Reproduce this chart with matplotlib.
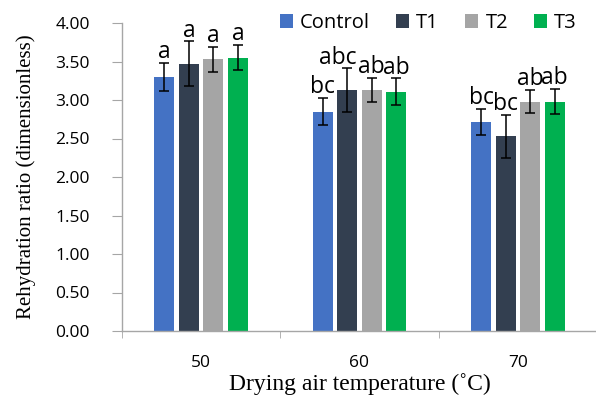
import matplotlib
matplotlib.use("Agg")
import matplotlib.pyplot as plt
import numpy as np

categories = ["50", "60", "70"]
series = ["Control", "T1", "T2", "T3"]
values = {
    "Control": [3.30, 2.85, 2.71],
    "T1": [3.47, 3.13, 2.53],
    "T2": [3.53, 3.13, 2.98],
    "T3": [3.55, 3.11, 2.98],
}
errors = {
    "Control": [0.18, 0.18, 0.17],
    "T1": [0.29, 0.28, 0.28],
    "T2": [0.16, 0.16, 0.15],
    "T3": [0.16, 0.17, 0.16],
}
letters = {
    "Control": ["a", "bc", "bc"],
    "T1": ["a", "abc", "bc"],
    "T2": ["a", "ab", "ab"],
    "T3": ["a", "ab", "ab"],
}
colors = ["#4472C4", "#333F50", "#A5A5A5", "#00B050"]
yticks = [0, 0.5, 1, 1.5, 2, 2.5, 3, 3.5, 4]

fig = plt.figure(figsize=(5.96, 3.97), dpi=100)
ax = fig.add_axes([122/596, 1-331/397, (597-122)/596, (331-23)/397])

x = np.arange(len(categories))
step = 0.155
width = 0.126
sans = ["Open Sans", "DejaVu Sans"]
label_dx = {("T1", 1): -7}
for i, s in enumerate(series):
    xs = x + (i - 1.5) * step
    ax.bar(xs, values[s], width, color=colors[i], label=s, zorder=2,
           edgecolor="none")
    ax.errorbar(xs, values[s], yerr=errors[s], fmt="none", ecolor="black",
                elinewidth=1.1, capsize=3.8, capthick=1.1, zorder=3)
    for j in range(len(categories)):
        top = values[s][j] + errors[s][j]
        ax.annotate(letters[s][j], (xs[j], top),
                    xytext=(label_dx.get((s, j), 0), 3.5),
                    textcoords="offset points", ha="center", va="baseline",
                    fontsize=16.5, family=sans, color="black", zorder=4)

ax.set_xlim(-0.5, 2.5)
ax.set_ylim(0, 4)
ax.set_yticks(yticks)
ax.set_yticklabels([f"{v:.2f}" for v in yticks], family=sans, fontsize=12.5)
ax.set_xticks(x)
ax.set_xticklabels(categories, family=sans, fontsize=12.5)
ax.tick_params(axis="x", length=0, pad=17)
ax.set_xticks([-0.5, 0.5, 1.5, 2.5], minor=True)
ax.tick_params(axis="x", which="minor", length=5, color="#A6A6A6", direction="out")
ax.tick_params(axis="y", length=7.2, color="#A6A6A6", direction="out", pad=16)
for sp in ["top", "right"]:
    ax.spines[sp].set_visible(False)
for sp in ["left", "bottom"]:
    ax.spines[sp].set_color("#A6A6A6")
    ax.spines[sp].set_linewidth(1.0)

ax.set_xlabel("Drying air temperature (˚C)", family="Liberation Serif",
              fontsize=17, labelpad=2)
ax.set_ylabel("Rehydration ratio (dimensionless)", family="Liberation Serif",
              fontsize=15, labelpad=14)

leg = ax.legend(loc="center right", bbox_to_anchor=(0.975, 1.0), ncol=4,
                frameon=False, prop={"family": sans, "size": 14.5},
                handlelength=0.65, handleheight=0.65, handletextpad=0.35,
                columnspacing=1.3, borderaxespad=0)

fig.savefig("out.png", dpi=100)
